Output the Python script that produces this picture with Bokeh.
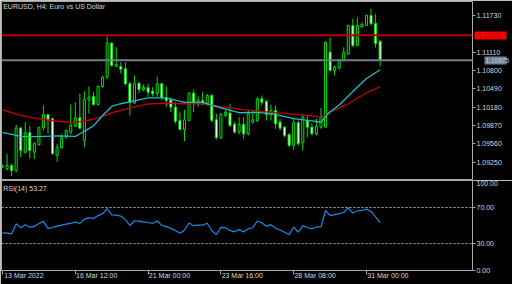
from bokeh.plotting import figure
from bokeh.layouts import column
from bokeh.models import (ColumnDataSource, FixedTicker, PrintfTickFormatter, Label,
                          Span, LinearAxis, Range1d)
from bokeh.embed import file_html
from bokeh.resources import INLINE

title_text = "EURUSD, H4:  Euro vs US Dollar"
rsi_title = "RSI(14) 53.27"
price_ticks = [1.09250, 1.09560, 1.09870, 1.10180, 1.10490, 1.10800, 1.11110, 1.11730]
rsi_ticks = [0, 30, 70, 100]
rsi_levels = [30, 70]
date_ticks = [0, 16, 32, 48, 64, 80]
date_labels = ["13 Mar 2022", "16 Mar 12:00", "21 Mar 00:00", "23 Mar 16:00",
               "28 Mar 08:00", "31 Mar 00:00"]
line_level = 1.11395
bid_level = 1.10975

opens = [1.09178, 1.09139, 1.09190, 1.09111, 1.09826, 1.09420, 1.09748, 1.09420, 1.09545, 1.09832,
         1.10052, 1.09984, 1.09364, 1.09494, 1.09673, 1.09758, 1.09859, 1.10001, 1.09618, 1.10305,
         1.10361, 1.10226, 1.10530, 1.10687, 1.11262, 1.10868, 1.10868, 1.10829, 1.10576, 1.10248,
         1.10586, 1.10474, 1.10508, 1.10451, 1.10407, 1.10576, 1.10339, 1.10305, 1.10180, 1.09955,
         1.09803, 1.09955, 1.10417, 1.10238, 1.10293, 1.10238, 1.10378, 1.09967, 1.09663, 1.10040,
         1.10079, 1.09888, 1.09758, 1.09888, 1.09731, 1.09927, 1.09955, 1.10322, 1.10277, 1.10052,
         1.10124, 1.09927, 1.09842, 1.09714, 1.09533, 1.09917, 1.09579, 1.09955, 1.09842, 1.09731,
         1.09842, 1.09842, 1.11110, 1.10801, 1.10839, 1.10969, 1.11083, 1.11561, 1.11223, 1.11536,
         1.11561, 1.11730, 1.11595, 1.11291]
highs = [1.09203, 1.09393, 1.09224, 1.09883, 1.09842, 1.09927, 1.09859, 1.09589, 1.09854, 1.10209,
         1.10069, 1.10001, 1.09562, 1.09731, 1.09798, 1.10226, 1.10265, 1.10407, 1.10451, 1.10530,
         1.10434, 1.10547, 1.10704, 1.11375, 1.11279, 1.11194, 1.10941, 1.10941, 1.10615, 1.10716,
         1.10603, 1.10564, 1.10576, 1.10518, 1.10699, 1.10586, 1.10530, 1.10339, 1.10265, 1.10096,
         1.10136, 1.10434, 1.10474, 1.10361, 1.10434, 1.10407, 1.10407, 1.10069, 1.10079, 1.10136,
         1.10238, 1.09927, 1.10011, 1.10011, 1.10124, 1.10124, 1.10349, 1.10378, 1.10305, 1.10226,
         1.10209, 1.09984, 1.09859, 1.09741, 1.09984, 1.09955, 1.10069, 1.10040, 1.09900, 1.09984,
         1.10163, 1.11291, 1.11363, 1.10885, 1.10998, 1.11194, 1.11573, 1.11674, 1.11701, 1.11617,
         1.11747, 1.11843, 1.11759, 1.11316]
lows = [1.09153, 1.09111, 1.09014, 1.09082, 1.09335, 1.09393, 1.09308, 1.09308, 1.09533, 1.09787,
        1.09731, 1.09381, 1.09251, 1.09477, 1.09646, 1.09719, 1.09842, 1.09803, 1.09504, 1.10069,
        1.10209, 1.10209, 1.10508, 1.10660, 1.10868, 1.10860, 1.10745, 1.10547, 1.10040, 1.10238,
        1.10417, 1.10451, 1.10361, 1.10361, 1.10349, 1.10305, 1.10180, 1.10096, 1.09900, 1.09787,
        1.09606, 1.09944, 1.10096, 1.10192, 1.10209, 1.10209, 1.09927, 1.09634, 1.09646, 1.10011,
        1.09842, 1.09741, 1.09719, 1.09646, 1.09702, 1.09900, 1.09927, 1.10209, 1.09955, 1.09955,
        1.09815, 1.09787, 1.09673, 1.09504, 1.09449, 1.09533, 1.09449, 1.09673, 1.09702, 1.09702,
        1.09815, 1.09826, 1.10784, 1.10716, 1.10817, 1.10953, 1.11066, 1.11194, 1.11211, 1.11527,
        1.11553, 1.11561, 1.11189, 1.10868]
closes = [1.09186, 1.09195, 1.09111, 1.09826, 1.09449, 1.09748, 1.09449, 1.09562, 1.09832, 1.10052,
          1.09967, 1.09393, 1.09494, 1.09673, 1.09787, 1.09871, 1.10001, 1.09826, 1.10310, 1.10349,
          1.10226, 1.10530, 1.10687, 1.11262, 1.10885, 1.10902, 1.10822, 1.10576, 1.10260, 1.10576,
          1.10474, 1.10518, 1.10434, 1.10407, 1.10576, 1.10339, 1.10293, 1.10180, 1.09944, 1.09803,
          1.09967, 1.10417, 1.10238, 1.10293, 1.10248, 1.10378, 1.09955, 1.09663, 1.10057, 1.10096,
          1.09871, 1.09758, 1.09888, 1.09731, 1.10069, 1.09967, 1.10322, 1.10265, 1.10052, 1.10124,
          1.09900, 1.09826, 1.09702, 1.09533, 1.09917, 1.09562, 1.10011, 1.09842, 1.09731, 1.09854,
          1.10011, 1.11279, 1.10801, 1.10856, 1.10969, 1.11110, 1.11561, 1.11223, 1.11561, 1.11578,
          1.11730, 1.11590, 1.11257, 1.10975]

ma_bars = [0, 4, 8, 12, 16, 20, 22, 24, 26, 28, 32, 36, 40, 44, 48, 52, 56, 60, 64, 68,
           70, 71, 72, 74, 76, 78, 80, 83]
ma_fast = [1.09753, 1.09685, 1.09682, 1.09694, 1.09685, 1.09863, 1.10040, 1.10192, 1.10238, 1.10269,
           1.10336, 1.10336, 1.10260, 1.10260, 1.10167, 1.10086, 1.10091, 1.10057, 1.09986, 1.09950,
           1.09925, 1.10023, 1.10103, 1.10217, 1.10370, 1.10522, 1.10665, 1.10812]
ma_slow = [1.10133, 1.10040, 1.09984, 1.09942, 1.09918, 1.09976, 1.10023, 1.10082, 1.10124, 1.10170,
           1.10234, 1.10248, 1.10238, 1.10231, 1.10187, 1.10148, 1.10114, 1.10087, 1.10062, 1.10032,
           1.10011, 1.10048, 1.10094, 1.10167, 1.10238, 1.10331, 1.10420, 1.10527]

rsi = [41.8, 41.5, 40.6, 52.0, 47.3, 50.9, 48.0, 49.0, 52.3, 54.6,
       46.8, 47.8, 49.3, 50.4, 51.5, 52.4, 53.7, 52.4, 57.0, 58.5,
       57.8, 61.0, 63.0, 68.9, 61.9, 61.5, 60.5, 56.5, 50.0, 55.3,
       54.8, 54.0, 53.3, 52.4, 55.3, 50.2, 48.8, 46.8, 44.5, 41.4,
       45.0, 52.8, 49.8, 50.5, 50.5, 52.5, 44.5, 39.9, 48.0, 47.5,
       44.5, 43.0, 45.4, 42.9, 46.5, 47.5, 55.0, 53.0, 49.1, 50.9,
       47.0, 45.0, 42.5, 39.9, 48.4, 42.5, 49.8, 47.8, 46.3, 48.4,
       48.4, 66.7, 61.0, 62.0, 63.1, 64.5, 69.7, 63.8, 66.4, 66.7,
       68.2, 65.6, 59.5, 53.27]

FONT = "Liberation Sans"
FS = "7px"
TAG_FS = "6.5px"
TXT = "#d8d8d8"
FRAME = "#a8a8a8"
GREEN = "#00e000"

bars = list(range(len(opens)))
src = ColumnDataSource(dict(
    x=bars, o=opens, h=highs, l=lows, c=closes,
    top=[max(a, b) for a, b in zip(opens, closes)],
    bottom=[min(a, b) for a, b in zip(opens, closes)],
    fill=["#000000" if c >= o else "#ffffff" for o, c in zip(opens, closes)],
))

xr = Range1d(-0.22, 103.3)


def style_axis(ax, ticks, fmt):
    ax.ticker = FixedTicker(ticks=ticks)
    ax.formatter = PrintfTickFormatter(format=fmt)
    ax.axis_line_color = None
    ax.major_tick_out = 3
    ax.major_tick_in = 0
    ax.minor_tick_line_color = None
    ax.major_tick_line_color = FRAME
    ax.major_label_standoff = 1
    ax.major_label_text_font = FONT
    ax.major_label_text_font_size = FS
    ax.major_label_text_color = TXT


p = figure(width=512, height=180, x_range=xr, y_range=Range1d(1.08957, 1.11967),
           output_backend="svg", toolbar_location=None, y_axis_location="right",
           x_axis_location=None, min_border_left=1, min_border_right=40,
           min_border_top=1, min_border_bottom=1, background_fill_color="black",
           border_fill_color="black", outline_line_color=FRAME)
p.grid.visible = False
style_axis(p.yaxis[0], price_ticks, "%.5f")

# price tags drawn as extra right-hand axes (thick tick = coloured box)
tag_specs = [(line_level, "#ff0000", "#a00000", 30, -28),
             (bid_level, "#708090", "#c8d0d8", 20, -21)]
for lvl, box, txt, tin, stand in tag_specs:
    ax = LinearAxis(ticker=FixedTicker(ticks=[lvl]),
                    formatter=PrintfTickFormatter(format="%.5f"),
                    axis_line_color=None, minor_tick_line_color=None,
                    major_tick_in=tin, major_tick_out=2,
                    major_tick_line_color=box, major_tick_line_width=8,
                    major_label_standoff=stand, major_label_text_font=FONT,
                    major_label_text_font_size=TAG_FS, major_label_text_color=txt)
    p.add_layout(ax, "right")

p.segment(x0="x", y0="l", x1="x", y1="h", source=src, line_color=GREEN, line_width=1)
p.vbar(x="x", width=0.45, top="top", bottom="bottom", source=src,
       fill_color="fill", line_color=GREEN, line_width=1)
p.line(ma_bars, ma_slow, line_color="#c80000", line_width=1.3)
p.line(ma_bars, ma_fast, line_color="#18c0c8", line_width=1.3)

p.add_layout(Span(location=line_level, dimension="width", line_color="#b40000", line_width=2))
p.add_layout(Span(location=bid_level, dimension="width", line_color="#708090", line_width=2))

p.add_layout(Label(x=0.15, y=1.11877, text=title_text, text_font=FONT, text_font_size=FS,
                   text_color=TXT, text_baseline="middle", text_align="left"))

r = figure(width=512, height=104, x_range=xr, y_range=Range1d(0, 100),
           output_backend="svg", toolbar_location=None, y_axis_location="right",
           x_axis_location=None, min_border_left=1, min_border_right=40,
           min_border_top=0, min_border_bottom=14, background_fill_color="black",
           border_fill_color="black", outline_line_color=FRAME)
r.grid.visible = False
style_axis(r.yaxis[0], rsi_ticks, "%.2f")

for lv in rsi_levels:
    r.add_layout(Span(location=lv, dimension="width", line_color="#b0b0b0",
                      line_width=1, line_dash="2 2"))
r.line(bars, rsi, line_color="#1e88e8", line_width=1.2)
r.add_layout(Label(x=0.15, y=91.5, text=rsi_title, text_font=FONT, text_font_size=FS,
                   text_color=TXT, text_baseline="middle", text_align="left"))

ax_t = LinearAxis(ticker=FixedTicker(ticks=date_ticks), axis_line_color=None,
                  major_tick_out=4, major_tick_in=0, minor_tick_line_color=None,
                  major_tick_line_color=FRAME, major_label_text_font_size="1px",
                  major_label_text_alpha=0, major_label_standoff=0)
label_pos = [t + 4.7 for t in date_ticks]
ax_l = LinearAxis(ticker=FixedTicker(ticks=label_pos), axis_line_color=None,
                  major_tick_out=0, major_tick_in=0, minor_tick_line_color=None,
                  major_tick_line_color=None, major_label_standoff=-3,
                  major_label_overrides={pos: lab for pos, lab in zip(label_pos, date_labels)},
                  major_label_text_font=FONT, major_label_text_font_size=FS,
                  major_label_text_color=TXT)
r.add_layout(ax_t, "below")
r.add_layout(ax_l, "below")

layout = column(p, r, spacing=0)
open("out.html", "w").write(file_html(layout, INLINE))
